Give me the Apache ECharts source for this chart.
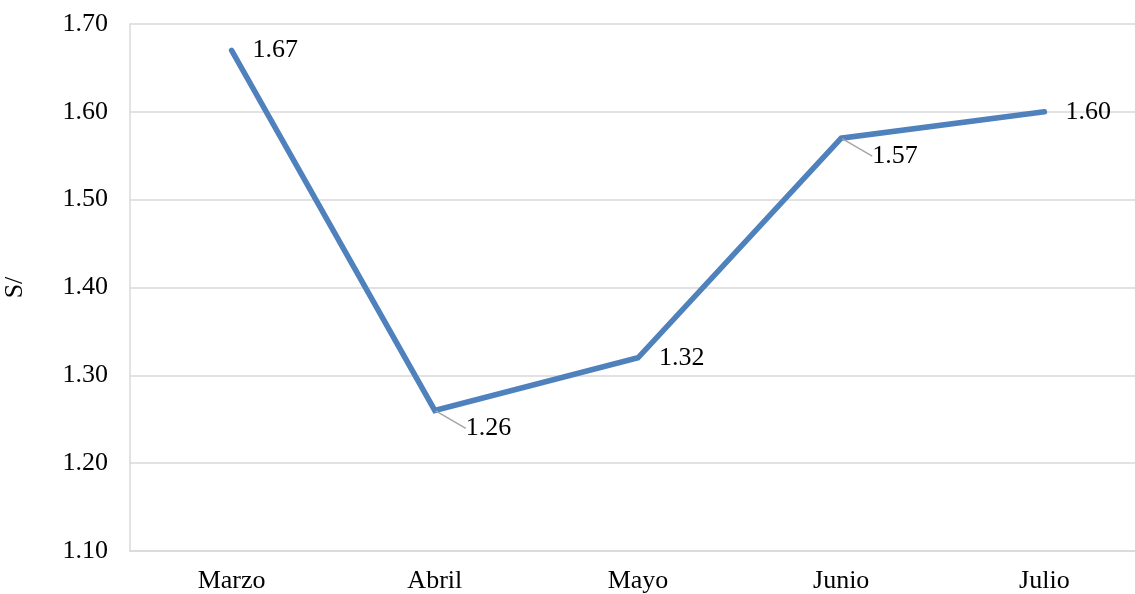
<!DOCTYPE html>
<html>
<head>
<meta charset="utf-8">
<script src="https://cdn.jsdelivr.net/npm/echarts@6/dist/echarts.min.js"></script>
<style>
  html, body { margin: 0; padding: 0; background: #fff; }
  #chart { width: 1135px; height: 594px; }
</style>
</head>
<body>
<div id="chart"></div>
<script>
// Monthly price (S/)
const months = ['Marzo', 'Abril', 'Mayo', 'Junio', 'Julio'];
const prices = [1.67, 1.26, 1.32, 1.57, 1.60];
const yTicks = { min: 1.10, max: 1.70, step: 0.10 };
// months whose value label sits below-right with a guide line
const leaderMonths = ['Abril', 'Junio'];

const FONT = '"Liberation Serif", "Times New Roman", serif';
const FS = 26;

const seriesData = prices.map((v, i) => {
  const item = { value: v };
  if (leaderMonths.includes(months[i])) {
    item.label = { position: 'right', distance: 0 };
    item.labelLine = { show: true };
  }
  return item;
});

const chart = echarts.init(document.getElementById('chart'), null, { renderer: 'canvas' });
chart.setOption({
  animation: false,
  grid: { left: 130, top: 24, width: 1016, bottom: 43, outerBoundsMode: 'none', containLabel: false },
  xAxis: {
    type: 'category',
    data: months,
    boundaryGap: true,
    axisLine: { show: true, lineStyle: { color: '#d9d9d9', width: 1.5 } },
    axisTick: { show: false },
    axisLabel: { color: '#000', fontFamily: FONT, fontSize: FS, margin: 17 }
  },
  yAxis: {
    type: 'value',
    min: yTicks.min,
    max: yTicks.max,
    interval: yTicks.step,
    name: 'S/',
    nameLocation: 'middle',
    nameGap: 102,
    nameRotate: 90,
    nameTextStyle: { color: '#000', fontFamily: FONT, fontSize: FS },
    axisLine: { show: true, lineStyle: { color: '#d9d9d9', width: 1.5 } },
    axisTick: { show: false },
    splitLine: { lineStyle: { color: '#d9d9d9', width: 1.5 } },
    axisLabel: {
      color: '#000', fontFamily: FONT, fontSize: FS, margin: 22,
      formatter: v => v.toFixed(2)
    }
  },
  series: [{
    type: 'line',
    data: seriesData,
    symbol: 'circle',
    symbolSize: 2,
    showSymbol: true,
    itemStyle: { color: '#4F81BD' },
    lineStyle: { color: '#4F81BD', width: 5.5, cap: 'round', join: 'miter' },
    label: {
      show: true,
      position: 'right',
      distance: 20,
      offset: [0, 2],
      color: '#000',
      fontFamily: FONT,
      fontSize: FS,
      formatter: p => p.value.toFixed(2)
    },
    labelLine: { show: false, lineStyle: { color: '#a6a6a6', width: 1.5 } },
    labelLayout: function (params) {
      if (leaderMonths.includes(months[params.dataIndex])) {
        return { dx: 30, dy: 18 };
      }
      return {};
    }
  }]
});
</script>
</body>
</html>
